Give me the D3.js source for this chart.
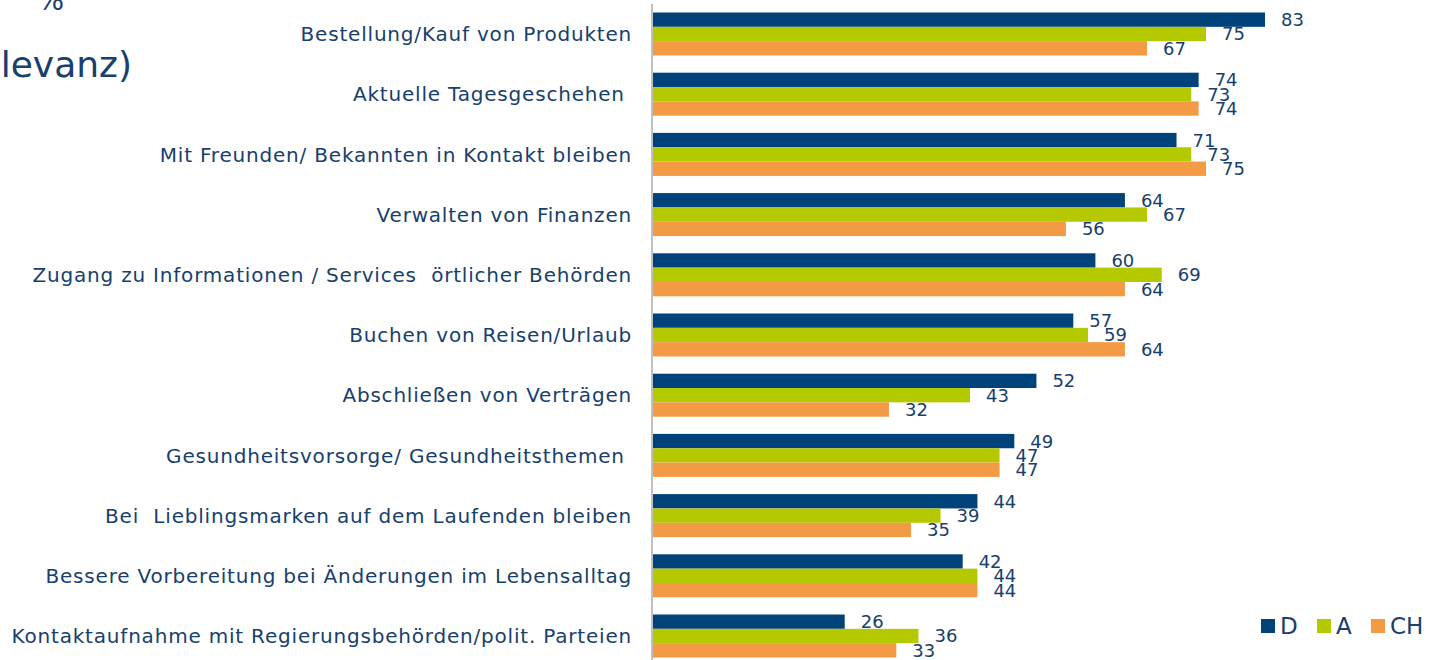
<!DOCTYPE html>
<html>
<head>
<meta charset="utf-8">
<script src="https://cdn.jsdelivr.net/npm/d3@7"></script>
<style>
  body { margin: 0; background: #fff; overflow: hidden; }
  svg { display: block; font-family: "DejaVu Sans", Verdana, sans-serif; }
  .cat-label { white-space: pre; fill: #17406d; letter-spacing: 0.8px; }
  .value-label { fill: #17406d; }
</style>
</head>
<body>
<script>
/*
 * Grouped horizontal bar chart: relevance of online activities, D / A / CH.
 */

const WIDTH = 1438;
const HEIGHT = 660;

// category labels (top to bottom)
const categories = [
  'Bestellung/Kauf von Produkten',
  'Aktuelle Tagesgeschehen ',
  'Mit Freunden/ Bekannten in Kontakt bleiben',
  'Verwalten von Finanzen',
  'Zugang zu Informationen / Services  örtlicher Behörden',
  'Buchen von Reisen/Urlaub',
  'Abschließen von Verträgen',
  'Gesundheitsvorsorge/ Gesundheitsthemen ',
  'Bei  Lieblingsmarken auf dem Laufenden bleiben',
  'Bessere Vorbereitung bei Änderungen im Lebensalltag',
  'Kontaktaufnahme mit Regierungsbehörden/polit. Parteien'
];

const seriesNames = ['D', 'A', 'CH'];
const seriesColors = ['#00427a', '#b5c900', '#f39a44'];

// values in %
const valuesD = [83, 74, 71, 64, 60, 57, 52, 49, 44, 42, 26];
const valuesA = [75, 73, 73, 67, 69, 59, 43, 47, 39, 44, 36];
const valuesCH = [67, 74, 75, 56, 64, 64, 32, 47, 35, 44, 33];

const seriesValues = [valuesD, valuesA, valuesCH];

/*
 * Scales.
 */

const AXIS_X = 653;

const x = d3.scaleLinear()
    .domain([0, 83])
    .range([AXIS_X, 1265]);

const y = d3.scaleBand()
    .domain(categories)
    .range([12.5, 657.5])
    .paddingInner(0.2857)
    .paddingOuter(0);

const ySub = d3.scaleBand()
    .domain(seriesNames)
    .range([0, y.bandwidth()]);

const color = d3.scaleOrdinal()
    .domain(seriesNames)
    .range(seriesColors);

// flat table for the bars
const rows = [];
categories.forEach((cat, i) => {
  seriesNames.forEach((s, j) => {
    rows.push({category: cat, series: s, value: seriesValues[j][i]});
  });
});

const svg = d3.select('body')
  .append('svg')
    .attr('width', WIDTH)
    .attr('height', HEIGHT);

// title fragments, cut off at the left edge as in the source
svg.append('text')
    .attr('x', 64)
    .attr('y', 10)
    .attr('text-anchor', 'end')
    .attr('fill', '#17406d')
    .style('font-size', '28px')
    .text('%');

svg.append('text')
    .attr('x', 132)
    .attr('y', 77)
    .attr('text-anchor', 'end')
    .attr('fill', '#17406d')
    .style('font-size', '36px')
    .text('(Relevanz)');

// vertical axis line
svg.append('line')
    .attr('x1', AXIS_X - 1)
    .attr('x2', AXIS_X - 1)
    .attr('y1', 4)
    .attr('y2', HEIGHT)
    .attr('stroke', '#c0c0c0')
    .attr('stroke-width', 2);

// bars
svg.append('g')
  .selectAll('rect')
  .data(rows)
  .enter()
  .append('rect')
    .attr('x', x(0))
    .attr('y', d => y(d.category) + ySub(d.series))
    .attr('width', d => x(d.value) - x(0))
    .attr('height', ySub.bandwidth())
    .attr('fill', d => color(d.series));

// value labels
svg.append('g')
  .selectAll('text')
  .data(rows)
  .enter()
  .append('text')
    .attr('class', 'value-label')
    .attr('x', d => x(d.value) + 16)
    .attr('y', d => y(d.category) + ySub(d.series) + ySub.bandwidth() / 2)
    .attr('dy', '0.36em')
    .style('font-size', '18px')
    .text(d => d.value);

// category labels
svg.append('g')
  .selectAll('text')
  .data(categories)
  .enter()
  .append('text')
    .attr('class', 'cat-label')
    .attr('x', 632)
    .attr('y', d => y(d) + y.bandwidth() / 2)
    .attr('dy', '0.36em')
    .attr('text-anchor', 'end')
    .style('font-size', '20px')
    .text(d => d);

// legend
const legend = svg.append('g')
    .attr('transform', 'translate(1261, 626)');

const legendX = [0, 56, 110];

const legendItem = legend.selectAll('g')
  .data(seriesNames)
  .enter()
  .append('g')
    .attr('transform', (d, i) => `translate(${legendX[i]}, 0)`);

legendItem.append('rect')
    .attr('x', 0)
    .attr('y', -7)
    .attr('width', 14)
    .attr('height', 14)
    .attr('fill', d => color(d));

legendItem.append('text')
    .attr('x', 19)
    .attr('y', 0)
    .attr('dy', '0.36em')
    .attr('fill', '#17406d')
    .style('font-size', '23px')
    .text(d => d);
</script>
</body>
</html>
